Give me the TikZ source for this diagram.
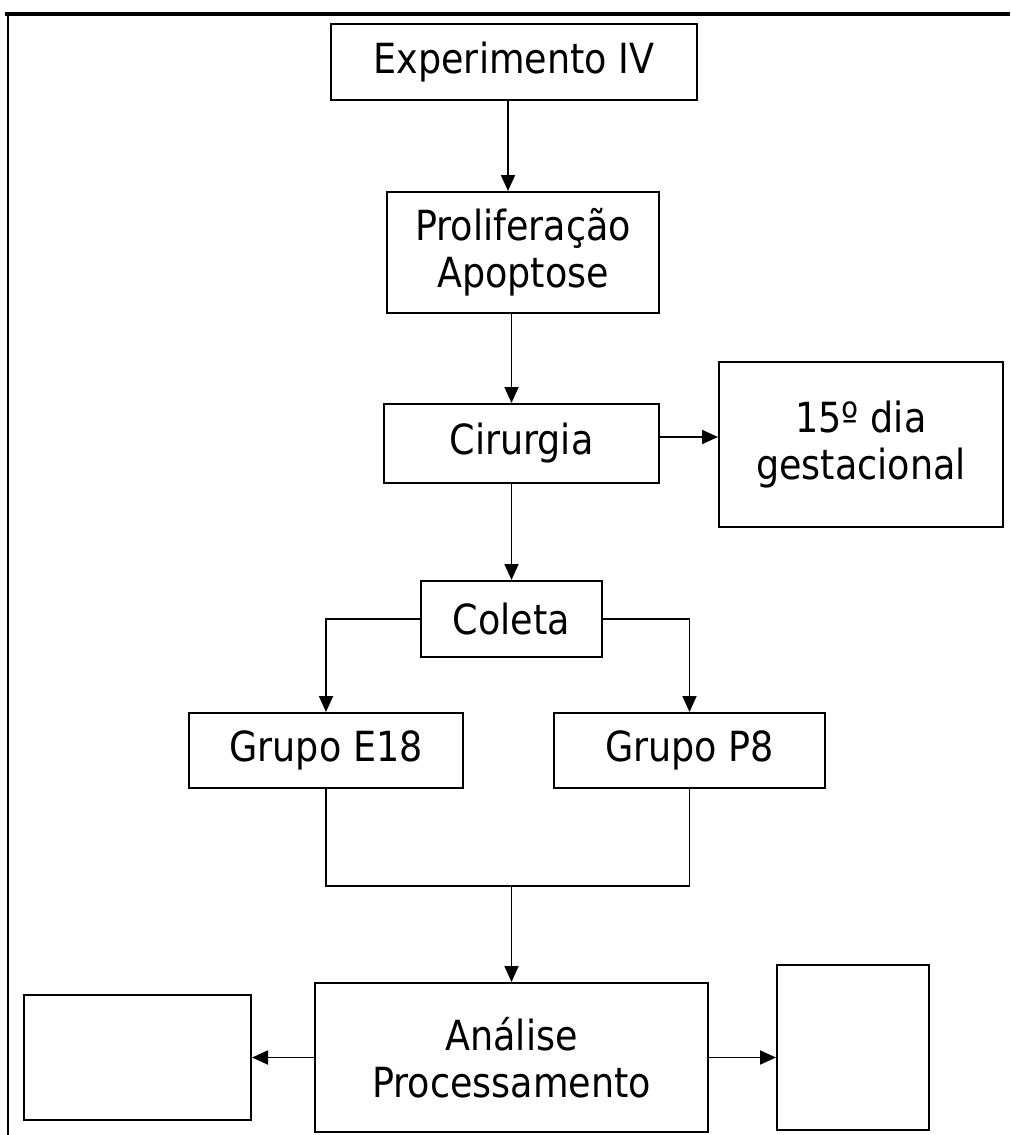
\documentclass[tikz,border=0pt]{standalone}
\usepackage{fontspec}
\setmainfont{DejaVu Sans}[FakeStretch=0.88]
\usepackage{tikz}
\usetikzlibrary{arrows.meta, calc}

\begin{document}
\begin{tikzpicture}[x=1pt, y=-1pt,
		box/.style={draw, line width=2pt, inner sep=0pt, align=center,
			font=\fontsize{41.5}{47}\selectfont},
		arr/.style={line width=1.8pt, -{Triangle[length=16pt, width=14pt]}},
		link/.style={line width=1.8pt}]
		\useasboundingbox (0,0) rectangle (1010,1135);
		
		% frame
		\draw [line width=3.5pt] (5,14) -- (1010,14);
		\draw [line width=2.5pt] (8,14) -- (8,1135);
	
		\node [box, minimum width=366pt, minimum height=76pt] (expIV) at (514,62) {Experimento IV};
		\node [box, minimum width=272pt, minimum height=121pt] (prolif) at (523,252.5) {Proliferação\\Apoptose};
		\node [box, minimum width=275pt, minimum height=79pt] (cirurgia) at (521.5,443.5) {Cirurgia};
		\node [box, minimum width=284pt, minimum height=165pt] (dia) at (861,444.5) {15º dia\\gestacional};
		\node [box, minimum width=181pt, minimum height=76pt] (coleta) at (511.5,619) {Coleta};
		\node [box, minimum width=274pt, minimum height=75pt] (grupoE) at (326,750.5) {Grupo E18};
		\node [box, minimum width=271pt, minimum height=75pt] (grupoP) at (689.5,750.5) {Grupo P8};
		\node [box, minimum width=393pt, minimum height=149pt] (analise) at (511.5,1057.5) {Análise\\Processamento};
		\node [box, minimum width=227pt, minimum height=125pt] (esq) at (137.5,1057.5) {};
		\node [box, minimum width=152pt, minimum height=165pt] (dir) at (853,1047.5) {};
		
		\coordinate (a1) at ($(expIV.south)+(-6,0)$);
		\coordinate (a2) at ($(cirurgia.east)+(0,-6.5)$);
		\coordinate (join) at (511.5,886);
		
		\draw [arr] (a1) -- (a1 |- prolif.north);
		\draw [arr] (prolif.south -| coleta) -- (cirurgia.north -| coleta);
		\draw [arr] (cirurgia.south -| coleta) -- (coleta.north);
		\draw [arr] (a2) -- (a2 -| dia.west);
		\draw [arr] (coleta.west) -| (grupoE.north);
		\draw [arr] (coleta.east) -| (grupoP.north);
		\draw [link] (grupoE.south) |- (join) -| (grupoP.south);
		\draw [arr] (join) -- (analise.north);
		\draw [arr] (analise.west) -- (esq.east);
		\draw [arr] (analise.east) -- (analise.east -| dir.west);
	\end{tikzpicture}
\end{document}
